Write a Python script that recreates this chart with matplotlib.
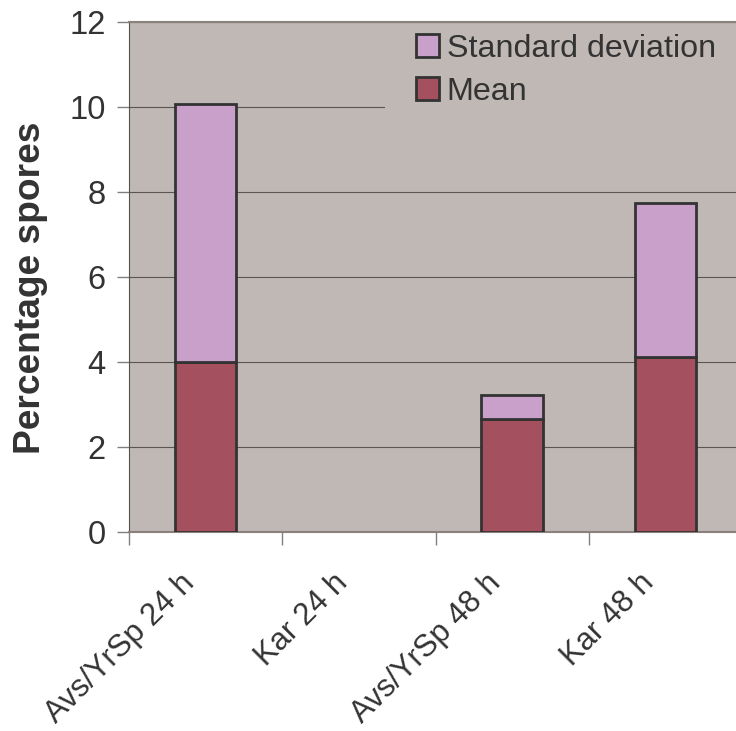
import numpy as np
import matplotlib.pyplot as plt
import matplotlib.transforms as mtransforms
from matplotlib.patches import Rectangle

plt.rcParams['font.family'] = ['Liberation Sans', 'DejaVu Sans']

# Datos del gráfico
categorias = ["Avs/YrSp 24 h", "Kar 24 h", "Avs/YrSp 48 h", "Kar 48 h"]
media = [4.0, 0.0, 2.65, 4.12]
desviacion = [6.08, 0.0, 0.57, 3.63]

color_fondo = "#c0b8b5"
color_media = "#a5505f"
color_desv = "#c9a0c9"
color_texto = "#333333"

fig = plt.figure(figsize=(7.36, 7.31), dpi=100)
ax = fig.add_axes([129/736, 199/731, 613/736, 510/731])
ax.set_facecolor(color_fondo)

x = np.arange(len(categorias))
# barras vacías sin borde
grosor = [2.0 if m + d > 0 else 0 for m, d in zip(media, desviacion)]
ax.bar(x, media, width=0.4, color=color_media, edgecolor="#333333",
       linewidth=grosor, label="Mean", zorder=3)
ax.bar(x, desviacion, width=0.4, bottom=media, color=color_desv,
       edgecolor="#333333", linewidth=grosor, label="Standard deviation", zorder=3)

ax.set_xlim(-0.5, 3.5)
ax.set_ylim(0, 12)
ax.set_yticks(np.arange(0, 13, 2))
ax.yaxis.grid(True, color="#5a5555", linewidth=0.8, zorder=1)
ax.set_axisbelow(True)

# Marcas del eje x entre categorías, etiquetas en el centro
ax.set_xticks(x)
ax.set_xticks(np.arange(-0.5, 3.5, 1.0), minor=True)
ax.tick_params(axis="x", which="major", length=0, pad=41)
ax.tick_params(axis="x", which="minor", length=9, color="#808080", width=1)
ax.set_xticklabels(categorias, rotation=45, ha="right", va="bottom",
                   rotation_mode="anchor", fontsize=22.3, color=color_texto)
desplaza = mtransforms.ScaledTranslation(-5/100, 0, fig.dpi_scale_trans)
for lbl in ax.get_xticklabels():
    lbl.set_transform(lbl.get_transform() + desplaza)

ax.tick_params(axis="y", length=9, color="#808080", width=1,
               labelsize=23.5, labelcolor=color_texto, pad=8)

ax.spines["right"].set_visible(False)
ax.spines["top"].set_color("#8a807c")
ax.spines["top"].set_linewidth(1.5)
ax.spines["left"].set_color("#555050")
ax.spines["bottom"].set_color("#8a807c")
ax.spines["bottom"].set_linewidth(1.5)

ax.set_ylabel("Percentage spores", fontsize=26.7, fontweight="bold",
              color=color_texto)
ax.yaxis.set_label_coords(-0.132, 0.478)

# Fondo de la leyenda: tapa la línea de 10 a la derecha
ax.add_patch(Rectangle((385/736, 1 - 113/731), 400/736, 88/731,
                       transform=fig.transFigure, facecolor=color_fondo,
                       edgecolor="none", zorder=2))

handles, labels = ax.get_legend_handles_labels()
leg = ax.legend(handles[::-1], labels[::-1], loc="upper left",
                bbox_to_anchor=(416/736, 1 - 34/731),
                bbox_transform=fig.transFigure,
                frameon=False, fontsize=23.2, handlelength=0.7, handleheight=0.7,
                handletextpad=0.25, labelspacing=0.39, borderpad=0,
                borderaxespad=0)
for t in leg.get_texts():
    t.set_color(color_texto)
for h in leg.legend_handles:
    h.set_linewidth(2)

fig.savefig("out.png", dpi=100)
